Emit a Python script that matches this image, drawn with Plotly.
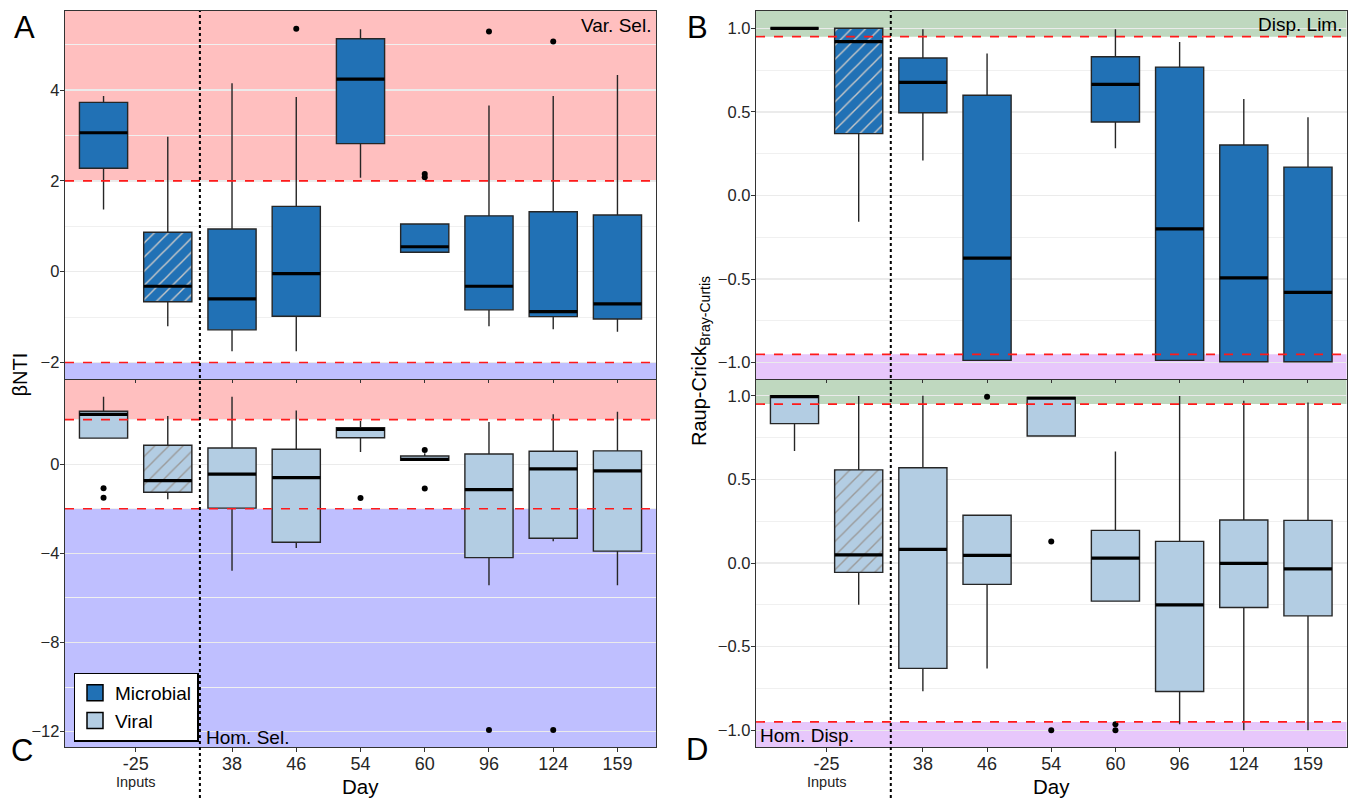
import plotly.graph_objects as go

W, H = 1358, 798

# ---------------- categories ----------------
POS = [1, 2, 3, 4, 5, 6, 7, 8, 9]          # 1,2 = inputs (-25), then days
TICK_POS = [1.5, 3, 4, 5, 6, 7, 8, 9]
TICK_TEXT = ["-25", "38", "46", "54", "60", "96", "124", "159"]
HATCH_POS = 2
SPLIT_POS = 2.5

# ---------------- A : microbial beta-NTI ----------------
A_pos = POS
A_q1 = [2.28, -0.66, -1.28, -0.98, 2.82, 0.43, -0.84, -0.99, -1.04]
A_med = [3.06, -0.32, -0.60, -0.04, 4.24, 0.55, -0.32, -0.88, -0.71]
A_q3 = [3.73, 0.87, 0.94, 1.44, 5.13, 1.05, 1.23, 1.32, 1.25]
A_lo = [1.37, -1.20, -1.75, -1.75, 2.07, 0.43, -1.20, -1.27, -1.32]
A_hi = [3.87, 2.97, 4.15, 3.85, 5.34, 1.05, 3.66, 3.87, 4.33]
A_out_x = [4, 6, 6, 7, 8]
A_out_y = [5.35, 2.15, 2.08, 5.29, 5.07]

# ---------------- C : viral beta-NTI ----------------
C_pos = POS
C_q1 = [1.17, -1.26, -1.97, -3.50, 1.19, 0.18, -4.19, -3.32, -3.90]
C_med = [2.24, -0.74, -0.44, -0.60, 1.56, 0.22, -1.14, -0.21, -0.30]
C_q3 = [2.38, 0.85, 0.73, 0.67, 1.64, 0.37, 0.46, 0.58, 0.60]
C_lo = [1.17, -1.57, -4.78, -3.76, 0.55, 0.18, -5.43, -3.46, -5.43]
C_hi = [3.03, 2.17, 3.03, 2.41, 1.94, 0.49, 1.90, 2.24, 2.35]
C_out_x = [1, 1, 5, 6, 6, 7, 8]
C_out_y = [-1.08, -1.50, -1.51, 0.64, -1.09, -11.93, -11.93]

# ---------------- B : microbial Raup-Crick ----------------
B_pos = [1, 2, 3, 4, 6, 7, 8, 9]
B_q1 = [1.0, 0.37, 0.495, -0.986, 0.44, -0.986, -0.994, -0.994]
B_med = [1.0, 0.92, 0.677, -0.374, 0.665, -0.20, -0.493, -0.579]
B_q3 = [1.0, 1.0, 0.822, 0.60, 0.83, 0.768, 0.302, 0.17]
B_lo = [1.0, -0.157, 0.21, -0.986, 0.282, -0.986, -0.994, -0.994]
B_hi = [1.0, 1.0, 0.994, 0.85, 0.994, 0.918, 0.577, 0.468]
B_out_x = []
B_out_y = []

# ---------------- D : viral Raup-Crick ----------------
D_pos = POS
D_q1 = [0.833, -0.056, -0.63, -0.128, 0.759, -0.228, -0.768, -0.266, -0.316]
D_med = [0.995, 0.049, 0.081, 0.045, 0.985, 0.029, -0.25, -0.002, -0.035]
D_q3 = [1.0, 0.557, 0.569, 0.285, 0.99, 0.195, 0.129, 0.257, 0.255]
D_lo = [0.669, -0.25, -0.766, -0.63, 0.759, -0.228, -0.964, -1.0, -1.0]
D_hi = [1.0, 0.998, 1.0, 0.285, 0.99, 0.667, 0.998, 0.97, 0.96]
D_out_x = [4, 5, 5, 6, 6]
D_out_y = [0.994, 0.129, -1.0, -0.964, -1.0]

# thresholds
NTI_THR = 2.0
RC_THR = 0.95

# ---------------- styles ----------------
MICRO = "#2171B5"
VIRAL = "#B3CDE3"
BOX_LINE = "#262626"
PINK = "#FFBFBF"
LAVENDER = "#BFBFFF"
GREEN = "#BFD8BF"
PURPLE = "#E7C7FB"
FONT = "Liberation Sans, Arial, sans-serif"
BOXW = 0.75

LEFT_X = [65 / W, 656 / W]
RIGHT_X = [756 / W, 1346.5 / W]
TOP_Y = [1 - 379 / H, 1 - 11 / H]
BOT_Y = [1 - 747 / H, 1 - 380 / H]

RANGES = {
    "A": [-2.363, 5.742],
    "C": [-12.69, 3.78],
    "B": [-1.0975, 1.1035],
    "D": [-1.10, 1.094],
}

fig = go.Figure()
shapes = []


def add_panel(xa, ya, pos, q1, med, q3, lo, hi, ox, oy, fill, hatch, yr, thr, up_col, lo_col):
    hidx = [i for i, p in enumerate(pos) if p == HATCH_POS]
    nidx = [i for i, p in enumerate(pos) if p != HATCH_POS]
    # hatched box body (bar with pattern)
    for i in hidx:
        fig.add_trace(go.Bar(
            x=[pos[i]], base=[q1[i]], y=[q3[i] - q1[i]], width=BOXW,
            marker=dict(color=fill, line=dict(width=0),
                        pattern=dict(shape="/", fgcolor=hatch, fgopacity=1,
                                     size=10, solidity=0.14, fillmode="overlay")),
            xaxis=xa, yaxis=ya, showlegend=False, hoverinfo="skip"))
    # boxes
    for idxs, fc in ((nidx, fill), (hidx, "rgba(0,0,0,0)")):
        if not idxs:
            continue
        fig.add_trace(go.Box(
            x=[pos[i] for i in idxs], q1=[q1[i] for i in idxs],
            median=[med[i] for i in idxs], q3=[q3[i] for i in idxs],
            lowerfence=[lo[i] for i in idxs], upperfence=[hi[i] for i in idxs],
            orientation="v", width=BOXW, whiskerwidth=0, boxpoints=False,
            fillcolor=fc, line=dict(color=BOX_LINE, width=1.4),
            xaxis=xa, yaxis=ya, showlegend=False, hoverinfo="skip"))
    # thick medians
    mx, my = [], []
    for p, m in zip(pos, med):
        mx += [p - BOXW / 2, p + BOXW / 2, None]
        my += [m, m, None]
    fig.add_trace(go.Scatter(x=mx, y=my, mode="lines",
                             line=dict(color="black", width=3.2),
                             xaxis=xa, yaxis=ya, showlegend=False, hoverinfo="skip"))
    # outliers
    if ox:
        fig.add_trace(go.Scatter(x=ox, y=oy, mode="markers",
                                 marker=dict(color="black", size=6),
                                 xaxis=xa, yaxis=ya, showlegend=False, hoverinfo="skip"))
    # regions
    xd = xa + " domain"
    shapes.append(dict(type="rect", xref=xd, yref=ya, x0=0, x1=1, y0=thr, y1=yr[1],
                       fillcolor=up_col, line=dict(width=0), layer="below"))
    shapes.append(dict(type="rect", xref=xd, yref=ya, x0=0, x1=1, y0=yr[0], y1=-thr,
                       fillcolor=lo_col, line=dict(width=0), layer="below"))
    for t in (thr, -thr):
        shapes.append(dict(type="line", xref=xd, yref=ya, x0=0, x1=1, y0=t, y1=t,
                           line=dict(color="#FF1A1A", width=1.6, dash="dash"), layer="above"))


add_panel("x", "y", A_pos, A_q1, A_med, A_q3, A_lo, A_hi, A_out_x, A_out_y,
          MICRO, "#C8C8C8", RANGES["A"], NTI_THR, PINK, LAVENDER)
add_panel("x2", "y2", B_pos, B_q1, B_med, B_q3, B_lo, B_hi, B_out_x, B_out_y,
          MICRO, "#C8C8C8", RANGES["B"], RC_THR, GREEN, PURPLE)
add_panel("x3", "y3", C_pos, C_q1, C_med, C_q3, C_lo, C_hi, C_out_x, C_out_y,
          VIRAL, "#9A9A9A", RANGES["C"], NTI_THR, PINK, LAVENDER)
add_panel("x4", "y4", D_pos, D_q1, D_med, D_q3, D_lo, D_hi, D_out_x, D_out_y,
          VIRAL, "#9A9A9A", RANGES["D"], RC_THR, GREEN, PURPLE)

# legend proxies
for name, col in (("Microbial", MICRO), ("Viral", VIRAL)):
    fig.add_trace(go.Scatter(x=[None], y=[None], mode="markers", name=name,
                             marker=dict(symbol="square", size=16, color=col,
                                         line=dict(color="black", width=1.5)),
                             xaxis="x3", yaxis="y3", showlegend=True))

# split (inputs | days) dotted lines
for xr in ("x", "x2"):
    shapes.append(dict(type="line", xref=xr, yref="paper", x0=SPLIT_POS, x1=SPLIT_POS,
                       y0=0, y1=TOP_Y[1], line=dict(color="black", width=2, dash="dot"),
                       layer="above"))

TICKFONT_X = dict(family=FONT, size=18, color="#262626")
TICKFONT_Y = dict(family=FONT, size=16.5, color="#262626")


def xaxis(domain, anchor, labels):
    return dict(domain=domain, anchor=anchor, range=[0.4, 9.6], autorange=False,
                tickmode="array", tickvals=TICK_POS, ticktext=TICK_TEXT,
                showticklabels=labels, ticks="outside", ticklen=4 if labels else 3,
                tickcolor="#333333", showgrid=False, zeroline=False,
                showline=True, mirror=True, linecolor="#333333", linewidth=1.3,
                tickfont=TICKFONT_X, ticklabelstandoff=-4)


def yaxis(domain, anchor, rng, dtick, minor, fmt=None):
    d = dict(domain=domain, anchor=anchor, range=rng, autorange=False,
             tick0=0, dtick=dtick, ticks="outside", ticklen=4, tickcolor="#333333",
             showgrid=True, gridcolor="#EBEBEB", gridwidth=1.3, zeroline=False,
             minor=dict(dtick=minor, tick0=0, showgrid=True, gridcolor="#F0F0F0",
                        gridwidth=1.0, ticks=""),
             showline=True, mirror=True, linecolor="#333333", linewidth=1.3,
             tickfont=TICKFONT_Y, ticklabelstandoff=-3)
    if fmt:
        d["tickformat"] = fmt
    return d


ann = []


def txt(text, x, y, size, xanchor="center", yanchor="middle", xref="paper", angle=0, color="black"):
    ann.append(dict(text=text, x=x, y=y, xref=xref, yref="paper", xanchor=xanchor,
                    yanchor=yanchor, showarrow=False, textangle=angle,
                    font=dict(family=FONT, size=size, color=color)))


txt("Var. Sel.", 653 / W, 1 - 25.5 / H, 19, xanchor="right")
txt("Hom. Sel.", 204 / W, 1 - 737.5 / H, 19, xanchor="left")
txt("Disp. Lim.", 1344 / W, 1 - 24 / H, 19, xanchor="right")
txt("Hom. Disp.", 758 / W, 1 - 735.5 / H, 19, xanchor="left")
txt("A", 24 / W, 1 - 27 / H, 31)
txt("B", 697.5 / W, 1 - 27 / H, 31)
txt("C", 22 / W, 1 - 750 / H, 31)
txt("D", 697.5 / W, 1 - 749 / H, 31)
txt("βNTI", 19.5 / W, 1 - 375 / H, 20, angle=-90)
txt("Raup-Crick<sub>Bray-Curtis</sub>", 701 / W, 1 - 361 / H, 20, angle=-90)
txt("Inputs", 1.5, 1 - 782 / H, 14.5, xref="x3", color="#222222")
txt("Inputs", 1.5, 1 - 782 / H, 14.5, xref="x4", color="#222222")
txt("Day", 0.5, 1 - 786 / H, 20.5, xref="x3 domain")
txt("Day", 0.5, 1 - 786 / H, 20.5, xref="x4 domain")

fig.update_layout(
    width=W, height=H, autosize=False,
    margin=dict(l=0, r=0, t=0, b=0),
    paper_bgcolor="white", plot_bgcolor="white",
    font=dict(family=FONT, color="black"),
    hovermode=False, showlegend=True, barmode="overlay", boxmode="overlay",
    xaxis=xaxis(LEFT_X, "y", False),
    yaxis=yaxis(TOP_Y, "x", RANGES["A"], 2, 1),
    xaxis2=xaxis(RIGHT_X, "y2", False),
    yaxis2=yaxis(TOP_Y, "x2", RANGES["B"], 0.5, 0.25, ".1f"),
    xaxis3=xaxis(LEFT_X, "y3", True),
    yaxis3=yaxis(BOT_Y, "x3", RANGES["C"], 4, 2),
    xaxis4=xaxis(RIGHT_X, "y4", True),
    yaxis4=yaxis(BOT_Y, "x4", RANGES["D"], 0.5, 0.25, ".1f"),
    legend=dict(x=73.5 / W, y=1 - 741.5 / H, xanchor="left", yanchor="bottom",
                bgcolor="white", bordercolor="black", borderwidth=1.5,
                font=dict(family=FONT, size=19, color="black"),
                itemsizing="trace", tracegroupgap=0),
    shapes=shapes, annotations=ann,
)

fig.write_html(
    "out.html",
    config={"displayModeBar": False, "staticPlot": True},
    post_script="document.body.style.margin='0px';document.body.style.padding='0px';"
                "document.body.style.overflow='hidden';"
                "document.documentElement.style.overflow='hidden';",
)
